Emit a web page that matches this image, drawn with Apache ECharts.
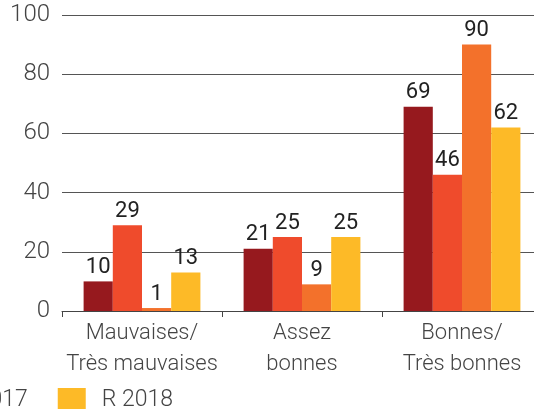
<!DOCTYPE html>
<html>
<head>
<meta charset="utf-8">
<script src="https://cdn.jsdelivr.net/npm/echarts@6/dist/echarts.min.js"></script>
<style>
  html, body { margin: 0; padding: 0; background: #fff; }
  #main { width: 534px; height: 409px; }
</style>
</head>
<body>
<div id="main"></div>
<script>
var categories = ['Mauvaises/\nTrès mauvaises', 'Assez\nbonnes', 'Bonnes/\nTrès bonnes'];
var seriesNames = ['R 2015', 'R 2016', 'R 2017', 'R 2018'];
var values2015 = [10, 21, 69];
var values2016 = [29, 25, 46];
var values2017 = [1, 9, 90];
var values2018 = [13, 25, 62];
var yTicks = [0, 20, 40, 60, 80, 100];

var colors = ['#96191e', '#ef4b2c', '#f3712b', '#fdba27'];
var font = 'Roboto';

function makeSeries(name, data, i) {
	return {
		name: name,
		type: 'bar',
		data: data,
		barGap: '0%',
		barCategoryGap: '27%',
		itemStyle: { color: colors[i] },
		label: {
			show: true,
			position: 'top',
			distance: 3,
			fontFamily: font,
			fontSize: 22,
			color: '#222'
		}
	};
}

var option = {
	animation: false,
	textStyle: { fontFamily: font },
	grid: { left: 62, right: -8, top: 15, bottom: 98, containLabel: false, outerBoundsMode: 'none' },
	legend: {
		data: seriesNames,
		left: -383,
		top: 383,
		itemWidth: 28,
		itemHeight: 25,
		itemGap: 30,
		icon: 'rect',
		textStyle: { fontFamily: font, fontWeight: 300, fontSize: 23, color: '#444', padding: [0, 0, 0, 11] }
	},
	xAxis: {
		type: 'category',
		data: categories,
		axisLine: { lineStyle: { color: '#444', width: 1 } },
		axisTick: { show: true, length: 6, lineStyle: { color: '#444' } },
		axisLabel: {
			interval: 0,
			fontFamily: font,
			fontWeight: 300,
			fontSize: 22,
			lineHeight: 31,
			color: '#444',
			margin: 7
		}
	},
	yAxis: {
		type: 'value',
		min: yTicks[0],
		max: yTicks[yTicks.length - 1],
		interval: 20,
		axisLine: { show: false },
		axisTick: { show: false },
		splitLine: { lineStyle: { color: '#555', width: 1 } },
		axisLabel: {
			fontFamily: font,
			fontWeight: 300,
			fontSize: 24,
			color: '#444',
			margin: 12
		}
	},
	series: [
		makeSeries(seriesNames[0], values2015, 0),
		makeSeries(seriesNames[1], values2016, 1),
		makeSeries(seriesNames[2], values2017, 2),
		makeSeries(seriesNames[3], values2018, 3)
	]
};

var myChart = echarts.init(document.getElementById('main'));
myChart.setOption(option);
</script>
</body>
</html>
